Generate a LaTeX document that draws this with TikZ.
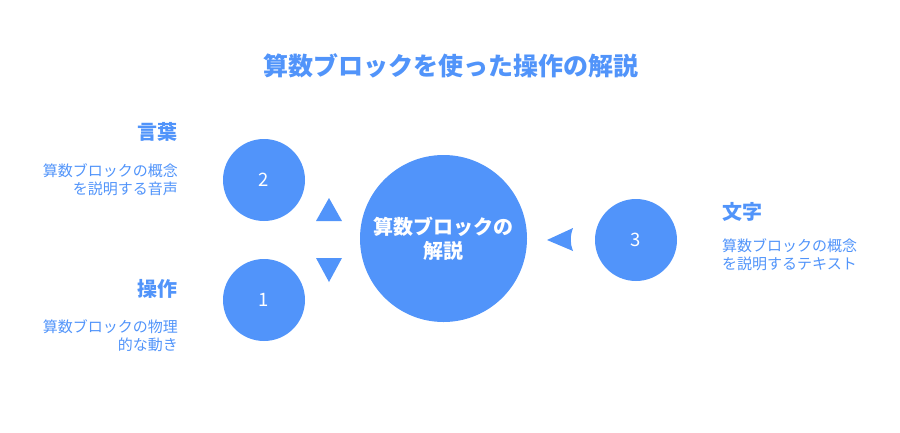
\documentclass[tikz,border=0pt]{standalone}
\usepackage{fontspec}
\setmainfont{Noto Sans CJK JP}
\definecolor{nblue}{RGB}{81,148,250}
\begin{document}
\begin{tikzpicture}[x=1pt,y=-1pt,
  bubble/.style={circle,fill=nblue,draw=none,inner sep=0pt,text=white},
  small/.style={bubble,minimum size=82pt,font=\fontsize{18.5}{20}\selectfont},
  big/.style={bubble,minimum size=167pt,align=center,font=\bfseries\fontsize{20}{24}\selectfont},
  head/.style={text=nblue,font=\bfseries\fontsize{20}{24}\selectfont,inner sep=0pt},
  desc/.style={text=nblue,font=\fontsize{15}{18}\selectfont,inner sep=0pt},
  marker/.style={fill=nblue,draw=none}]
\useasboundingbox (0,0) rectangle (900,432);
\node[text=nblue,font=\bfseries\fontsize{25}{28}\selectfont] (title) at (450.5,66) {算数ブロックを使った操作の解説};
\node[big] (c) at (443.5,238.5) {算数ブロックの\\解説};
\node[small] (n2) at (264,180) {2};
\node[small] (n1) at (264,300) {1};
\node[small] (n3) at (636,240) {3};
\node[head,anchor=east] (h2) at (178,132) {言葉};
\node[desc,anchor=east,align=right] (d2) at (178,180) {算数ブロックの概念\\を説明する音声};
\node[head,anchor=east] (h1) at (178,289) {操作};
\node[desc,anchor=east,align=right] (d1) at (178,336) {算数ブロックの物理\\的な動き};
\node[head,anchor=west] (h3) at (722,212) {文字};
\node[desc,anchor=west,align=left] (d3) at (722,255) {算数ブロックの概念\\を説明するテキスト};
\fill[marker] (316,221) -- (329,198) -- (342,221) -- cycle;
\fill[marker] (316,258) -- (329,282) -- (342,258) -- cycle;
\fill[marker] (547,240) -- (573,228) .. controls (570,236) and (570,244) .. (573,251) -- cycle;
\end{tikzpicture}
\end{document}
